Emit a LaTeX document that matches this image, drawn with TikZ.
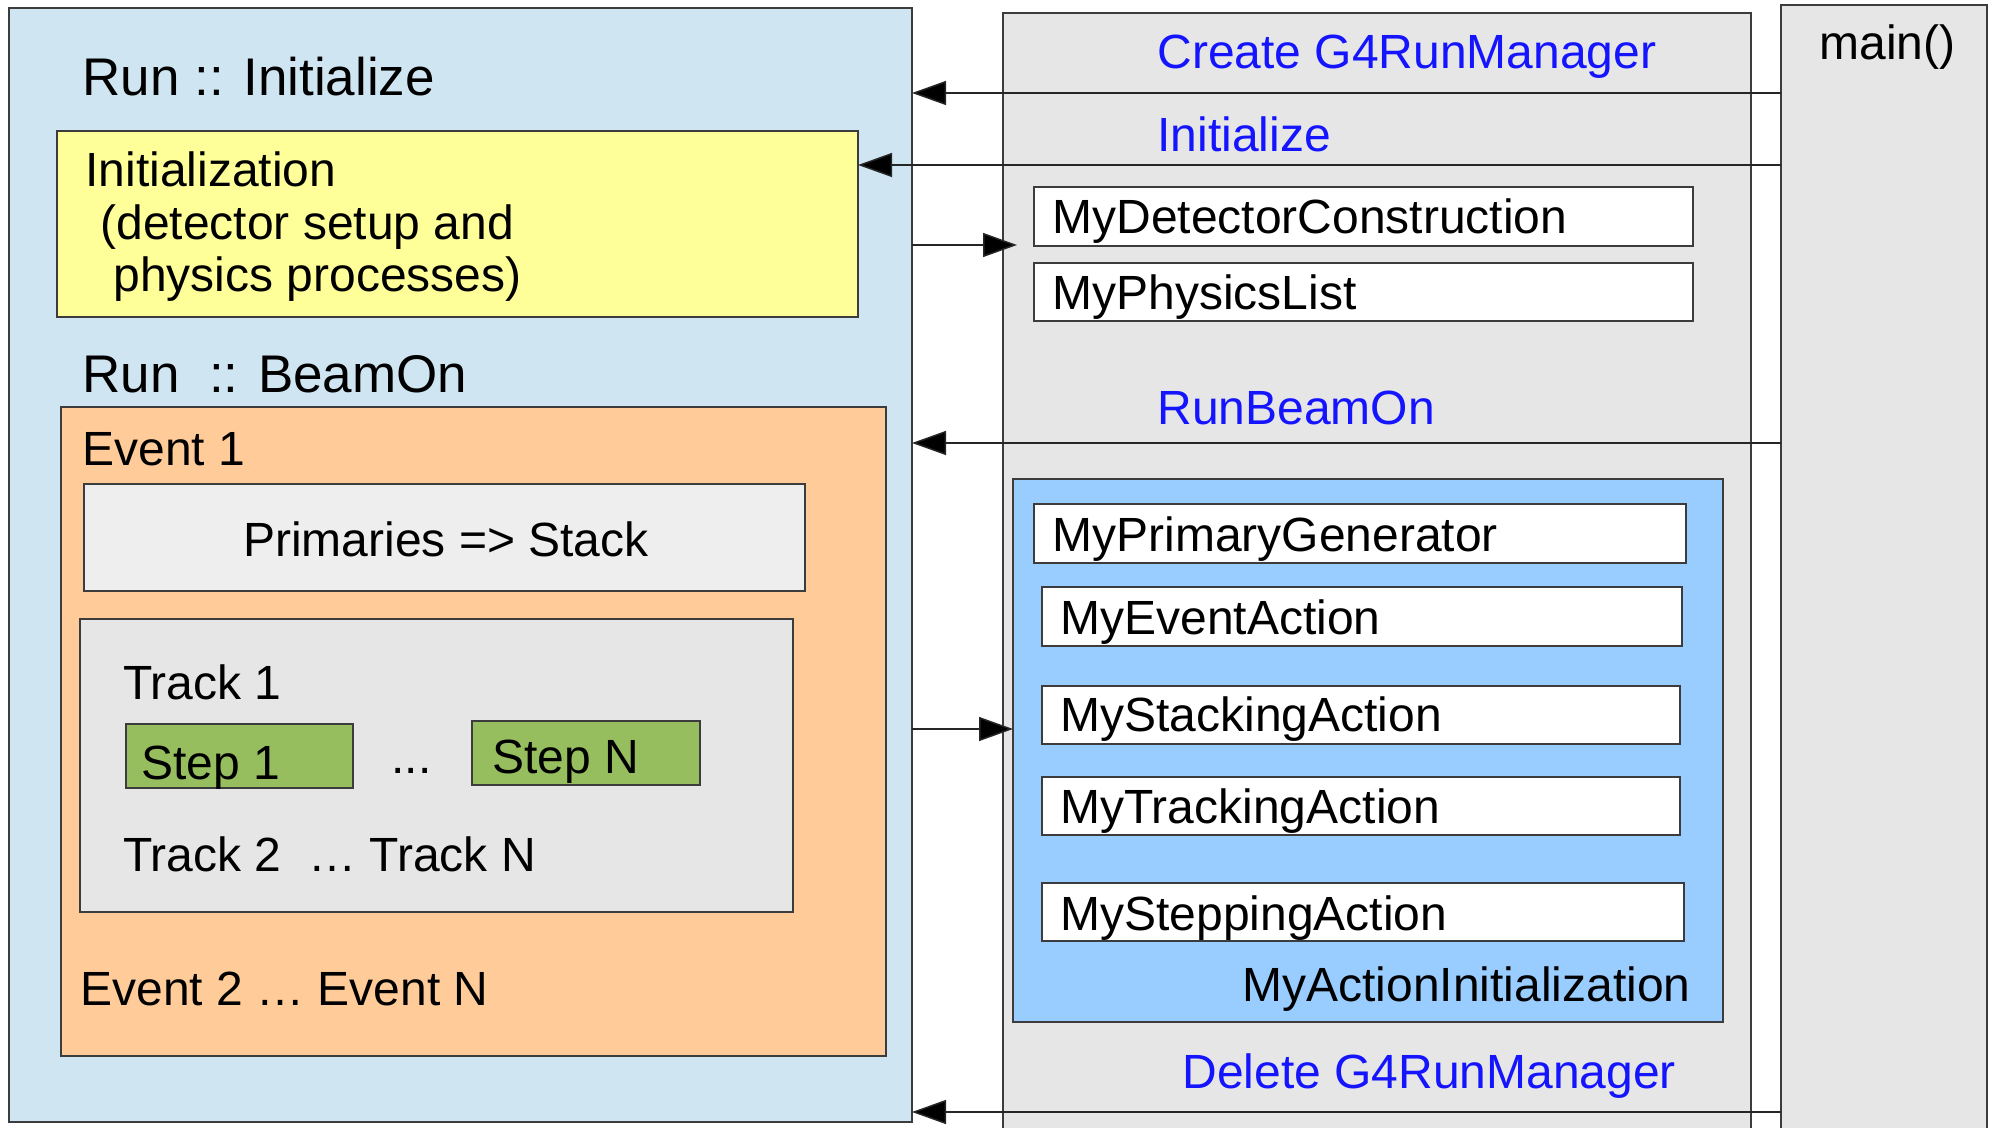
\documentclass[tikz,border=0pt]{standalone}
\usepackage{fontspec}
\setmainfont{Liberation Sans}
\usetikzlibrary{arrows.meta,fit}
\definecolor{runblue}{RGB}{207,229,242}
\definecolor{inityellow}{RGB}{255,255,153}
\definecolor{evorange}{RGB}{255,204,153}
\definecolor{primgray}{RGB}{238,238,238}
\definecolor{midgray}{RGB}{230,230,230}
\definecolor{stepgreen}{RGB}{151,190,94}
\definecolor{actblue}{RGB}{153,204,255}
\definecolor{textblue}{RGB}{20,20,255}
\definecolor{bordercol}{RGB}{60,60,60}
\begin{document}
\begin{tikzpicture}[x=0.5pt,y=-0.5pt,
  box/.style={draw=bordercol, line width=0.75pt, inner sep=0pt, outer sep=0pt},
  txt/.style={inner sep=0pt, anchor=base west, font=\fontsize{24}{28}\selectfont},
  bigtxt/.style={inner sep=0pt, anchor=base west, font=\fontsize{26.5}{30}\selectfont},
  bl/.style={text=textblue},
  arr/.style={line width=0.75pt, draw=black!85, -{Triangle[length=17pt,width=12pt,fill=black]}}
]
\useasboundingbox (0,0) rectangle (1994,1128);
\clip (0,0) rectangle (1994,1128);
% background columns
\node[box, fill=midgray, fit={(1003,13)(1751,1145)}] (gray) {};
\node[box, fill=midgray, fit={(1781,5)(1987,1145)}] (main) {};
% left run box
\node[box, fill=runblue, fit={(9,8)(912,1122)}] (run) {};
\node[box, fill=inityellow, fit={(57,131)(858,317)}] (init) {};
\node[box, fill=evorange, fit={(61,407)(886,1056)}] (event) {};
\node[box, fill=primgray, fit={(84,484)(805,591)}] (prim) {};
\node[box, fill=midgray, fit={(80,619)(793,912)}] (track) {};
\node[box, fill=stepgreen, fit={(126,724)(353,788)}] (step1) {};
\node[box, fill=stepgreen, fit={(472,721)(700,785)}] (stepN) {};
% right side boxes
\node[box, fill=white, fit={(1034,187)(1693,246)}] (det) {};
\node[box, fill=white, fit={(1034,263)(1693,321)}] (phys) {};
\node[box, fill=actblue, fit={(1013,479)(1723,1022)}] (action) {};
\node[box, fill=white, fit={(1034,504)(1686,563)}] (gen) {};
\node[box, fill=white, fit={(1042,587)(1682,646)}] (evt) {};
\node[box, fill=white, fit={(1042,686)(1680,744)}] (stack) {};
\node[box, fill=white, fit={(1042,777)(1680,835)}] (trk) {};
\node[box, fill=white, fit={(1042,883)(1684,941)}] (stp) {};
% texts left
\node[bigtxt] (tRunInit) at (82,96) {Run :: Initialize};
\node[txt] (tInit1) at (85,187) {Initialization};
\node[txt] (tInit2) at (100,240) {(detector setup and};
\node[txt] (tInit3) at (113,292) {physics processes)};
\node[bigtxt] (tRunBeam) at (82,393) {Run\ \ :: BeamOn};
\node[txt] (tEvent1) at (82,466) {Event 1};
\node[txt, anchor=base] (tPrim) at (446,557) {Primaries => Stack};
\node[txt] (tTrack1) at (123,699) {Track 1};
\node[txt] (tStep1) at (141,779) {Step 1};
\node[txt] (tDots) at (391,773) {...};
\node[txt] (tStepN) at (492,773) {Step N};
\node[txt] (tTrack2) at (123,871) {Track 2\ \ … Track N};
\node[txt] (tEvent2) at (80,1005) {Event 2 … Event N};
% texts right
\node[txt] (tMain) at (1819,60) {main()};
\node[txt, bl] (tCreate) at (1157,69) {Create G4RunManager};
\node[txt, bl] (tInitialize) at (1157,152) {Initialize};
\node[txt] (tDet) at (1052,234) {MyDetectorConstruction};
\node[txt] (tPhys) at (1052,310) {MyPhysicsList};
\node[txt, bl] (tRunBeamOn) at (1157,425) {RunBeamOn};
\node[txt] (tGen) at (1052,552) {MyPrimaryGenerator};
\node[txt] (tEvt) at (1060,635) {MyEventAction};
\node[txt] (tStack) at (1060,732) {MyStackingAction};
\node[txt] (tTrk) at (1060,823) {MyTrackingAction};
\node[txt] (tStp) at (1060,930) {MySteppingAction};
\node[txt, anchor=base east] (tAct) at (1691,1001) {MyActionInitialization};
\node[txt, bl] (tDelete) at (1182,1088) {Delete G4RunManager};
% arrow levels
\coordinate (l1) at (0,93);
\coordinate (l2) at (0,165);
\coordinate (l3) at (0,245);
\coordinate (l4) at (0,443);
\coordinate (l5) at (0,729);
\coordinate (l6) at (0,1112);
\draw[arr] (main.west |- l1) -- (run.east |- l1);
\draw[arr] (main.west |- l2) -- (init.east |- l2);
\draw[arr, shorten >=8.5pt] (run.east |- l3) -- (det.west |- l3);
\draw[arr] (main.west |- l4) -- (run.east |- l4);
\draw[arr] (run.east |- l5) -- (action.west |- l5);
\draw[arr] (main.west |- l6) -- (run.east |- l6);
\end{tikzpicture}
\end{document}
